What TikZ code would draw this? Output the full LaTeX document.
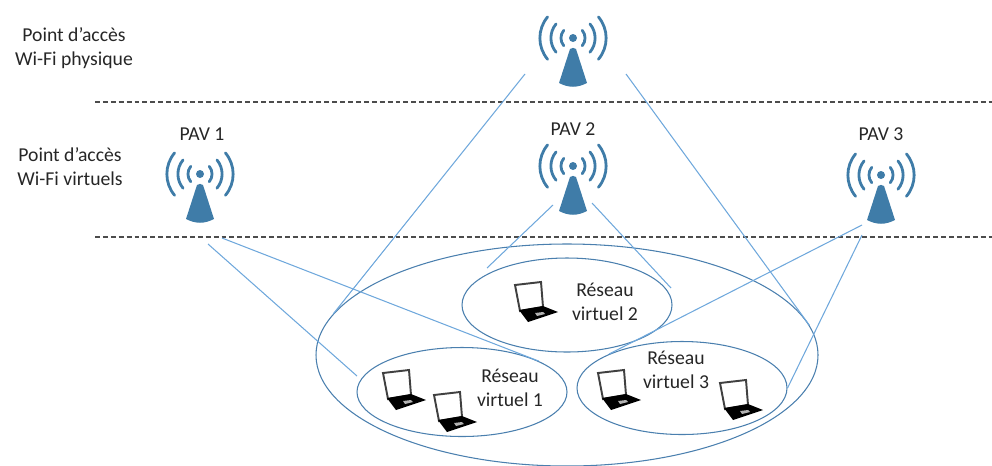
\documentclass[tikz,border=0pt]{standalone}
\usepackage{fontspec}
\setmainfont{Carlito}
\usetikzlibrary{shapes.geometric}
\definecolor{antblue}{HTML}{3F7CA8}
\definecolor{linkblue}{HTML}{6FA8DC}
\definecolor{netblue}{HTML}{4A7FAE}
\tikzset{
  label/.style={align=center,font=\fontsize{11.2}{13.6}\selectfont,text=black!85,inner sep=0pt},
  netring/.style={draw=netblue,ellipse,inner sep=0pt,line width=0.6pt},
  link/.style={draw=linkblue,line width=0.6pt},
  layer/.style={draw=black!70,line width=0.6pt,dash pattern=on 2.8pt off 1.7pt},
  antenna/.pic={
    \fill [antblue] (0,0) circle (4);
    \foreach \r in {12,22,33} {
      \draw [antblue,line width=1.6pt,line cap=round] (-\r*0.77,\r*0.64) arc (140:220:\r);
      \draw [antblue,line width=1.6pt,line cap=round] (\r*0.77,\r*0.64) arc (40:-40:\r);
    }
    \fill [antblue] (-3,-11) .. controls (0,-9.5) .. (3,-11) -- (14,-45) .. controls (4,-50) and (-4,-50) .. (-14,-45) -- cycle;
  },
  laptop/.pic={
    \draw [black!75,line width=1.1pt,fill=white] (0,-3) -- (26,0) -- (28,-25) -- (5,-29) -- cycle;
    \fill [black] (4,-28) -- (28,-24) -- (43,-30) -- (13,-40) -- cycle;
    \fill [white!70!black] (20,-31) -- (28,-30) -- (30,-32) -- (22,-34) -- cycle;
  }
}
\begin{document}
\begin{tikzpicture}[x=0.2mm,y=0.2mm]
\useasboundingbox (0,0) rectangle (992,-465);
\draw [layer] (95,-102) -- (992,-102);
\draw [layer] (95,-237) -- (992,-237);
\node [label] (phys) at (74,-48) {Point d’accès\\Wi-Fi physique};
\node [label] (virt) at (70,-167) {Point d’accès\\Wi-Fi virtuels};
\node [label] (pav1) at (202,-134) {PAV 1};
\node [label] (pav2) at (573,-129) {PAV 2};
\node [label] (pav3) at (881,-134) {PAV 3};
\pic at (573,-38) {antenna};
\pic at (200,-174) {antenna};
\pic at (573,-166) {antenna};
\pic at (881,-175) {antenna};
\node [netring,minimum width=10.04cm,minimum height=4.44cm] (big) at (567,-355) {};
\node [netring,minimum width=4.2cm,minimum height=1.88cm] (net2) at (567,-305) {};
\node [netring,minimum width=4.2cm,minimum height=1.78cm] (net1) at (462,-392) {};
\node [netring,minimum width=4.2cm,minimum height=1.86cm] (net3) at (682,-388) {};
\node [label] (txt1) at (510,-388) {Réseau\\virtuel 1};
\node [label] (txt2) at (605,-302) {Réseau\\virtuel 2};
\node [label] (txt3) at (676,-370) {Réseau\\virtuel 3};
\pic at (383,-370) {laptop};
\pic at (434,-392) {laptop};
\pic at (515,-282) {laptop};
\pic at (598,-370) {laptop};
\pic at (720,-380) {laptop};
\coordinate (physl) at (525,-74);
\coordinate (physr) at (626,-74);
\coordinate (pav1a) at (208,-244);
\coordinate (pav1b) at (222,-238);
\coordinate (pav2a) at (553,-205);
\coordinate (pav2b) at (592,-203);
\coordinate (pav3a) at (862,-225);
\coordinate (pav3b) at (862,-235);
\coordinate (net1end) at (357,-376);
\coordinate (net2l) at (487,-268);
\coordinate (net2r) at (671,-288);
\draw [link] (physl) -- (big.170);
\draw [link] (physr) -- (big.7);
\draw [link] (pav1a) -- (net1end);
\draw [link] (pav1b) -- (net1.22);
\draw [link] (pav2a) -- (net2l);
\draw [link] (pav2b) -- (net2r);
\draw [link] (pav3a) -- (net3.155);
\draw [link] (pav3b) -- (net3.east);
\end{tikzpicture}
\end{document}
